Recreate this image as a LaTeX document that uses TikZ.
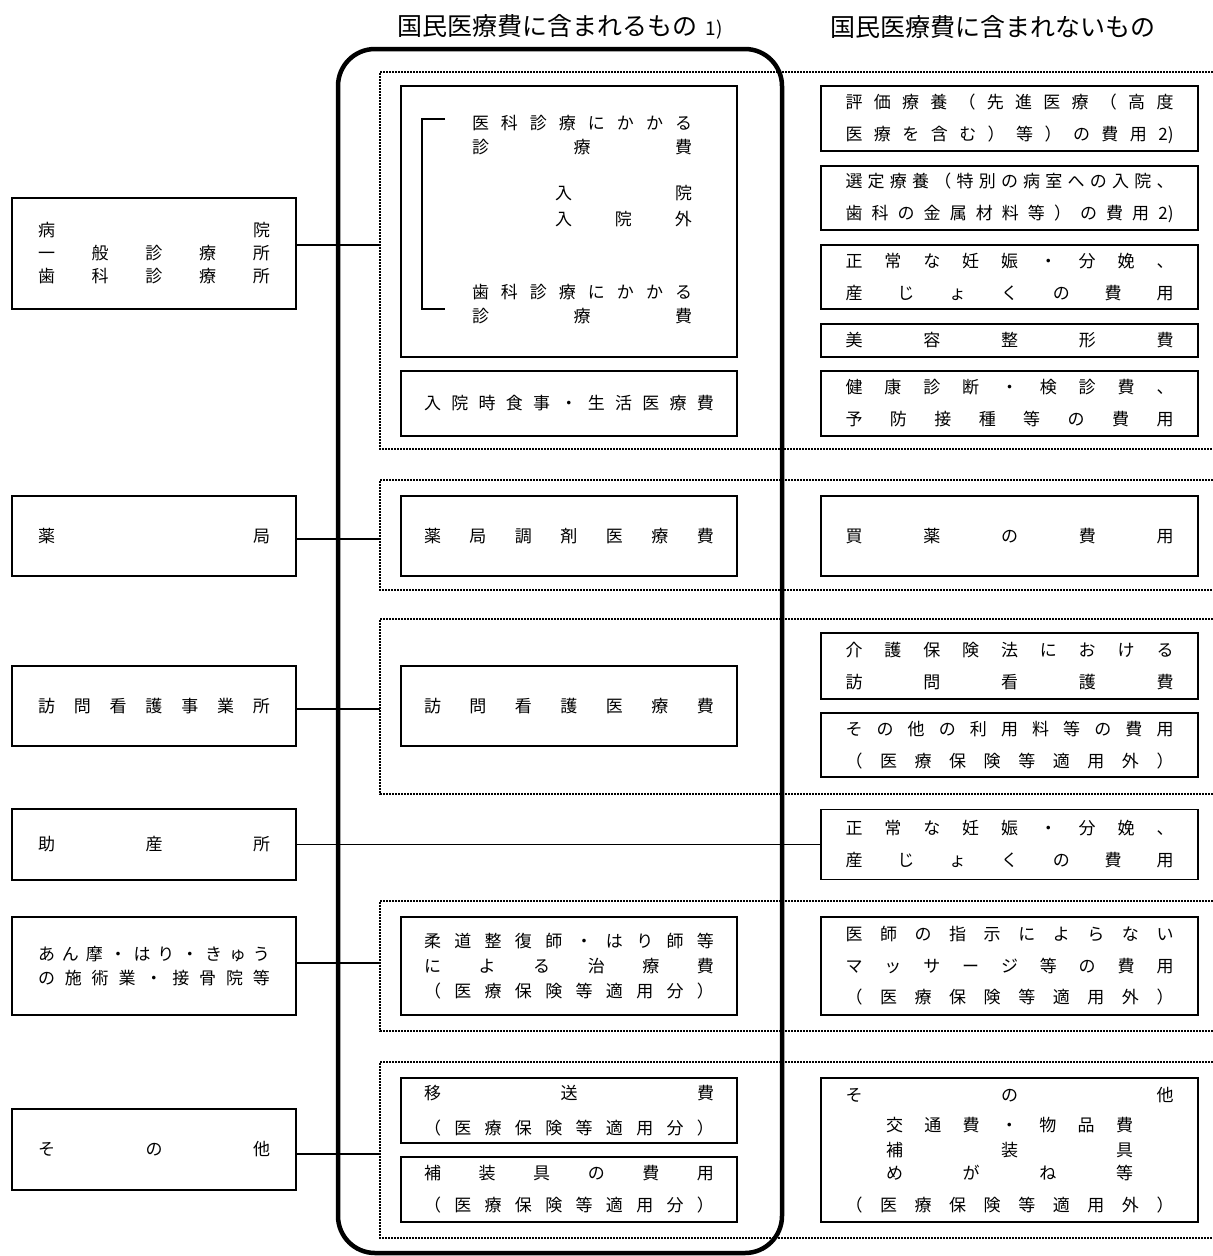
\documentclass[tikz,border=0pt]{standalone}
\usepackage{fontspec}
\setmainfont{Noto Sans CJK JP}
\usepackage{tikz}

% spread the characters of one line over a fixed width
\newcommand\spreadline[2]{\hbox to #1{\spreadfirst#2\relax}}
\def\spreadfirst#1{#1\spreadnext}
\def\spreadnext#1{\ifx\relax#1\else\hfil#1\expandafter\spreadnext\fi}
\newcommand\sprL[1]{\spreadline{232pt}{#1}}
\newcommand\sprM[1]{\spreadline{290pt}{#1}}
\newcommand\sprR[1]{\spreadline{328pt}{#1}}

\tikzset{
  box/.style={draw, line width=1.7pt, inner sep=0pt, align=center, font=\fontsize{17}{32}\selectfont},
  leftbox/.style={box, minimum width=284pt},
  midbox/.style={box, minimum width=336pt},
  rightbox/.style={box, minimum width=377pt},
  txt/.style={inner sep=0pt, align=center, font=\fontsize{17}{24}\selectfont},
  group/.style={line width=1.1pt, dash pattern=on 2pt off 1pt},
  link/.style={line width=1.3pt},
}

\begin{document}
\begin{tikzpicture}[x=1pt, y=-1pt]
  \useasboundingbox (0,0) rectangle (1213,1256);

  % headings
  \node[font=\fontsize{25}{25}\selectfont] (incl) at (560,27) {国民医療費に含まれるもの\hspace{8pt}{\fontsize{19}{19}\selectfont 1)}};
  \node[font=\fontsize{25}{25}\selectfont] (excl) at (993,27) {国民医療費に含まれないもの};

  % frame round the included costs
  \draw[line width=4.5pt, rounded corners=37pt] (338,49) rectangle (782,1253);

  % dashed groups, open to the right
  \draw[group] (1213,72) -- (380,72) -- (380,449) -- (1213,449);
  \draw[group] (1213,480) -- (380,480) -- (380,590) -- (1213,590);
  \draw[group] (1213,619) -- (380,619) -- (380,794) -- (1213,794);
  \draw[group] (1213,901) -- (380,901) -- (380,1031) -- (1213,1031);
  \draw[group] (1213,1062) -- (380,1062) -- (380,1238) -- (1213,1238);
  \coordinate (g1) at (380,245);
  \coordinate (g2) at (380,539);
  \coordinate (g3) at (380,709);
  \coordinate (g4) at (380,963);
  \coordinate (g5) at (380,1154);

  % providers
  \node[leftbox, minimum height=111pt, font=\fontsize{17}{23}\selectfont] (hosp) at (154,253.5) {\sprL{病院}\\ \sprL{一般診療所}\\ \sprL{歯科診療所}};
  \node[leftbox, minimum height=80pt] (phar) at (154,536) {\sprL{薬局}};
  \node[leftbox, minimum height=80pt] (visit) at (154,706) {\sprL{訪問看護事業所}};
  \node[leftbox, minimum height=71pt] (midw) at (154,844.5) {\sprL{助産所}};
  \node[leftbox, minimum height=98pt, font=\fontsize{17}{24}\selectfont] (anma) at (154,966) {\sprL{あん摩・はり・きゅう}\\ \sprL{の施術業・接骨院等}};
  \node[leftbox, minimum height=81pt] (other) at (154,1149.5) {\sprL{その他}};

  % included
  \node[midbox, minimum height=271pt] (medical) at (569,221.5) {};
  \draw[line width=1.7pt] (445,119) -| (422,309) -- (445,309);
  \node[txt] (ika) at (582,135) {\spreadline{220pt}{医科診療にかかる}\\ \spreadline{220pt}{診療費}};
  \node[txt, font=\fontsize{17}{26}\selectfont] (nyuin) at (623.5,206) {\spreadline{137pt}{入院}\\ \spreadline{137pt}{入院外}};
  \node[txt] (shika) at (582,304) {\spreadline{220pt}{歯科診療にかかる}\\ \spreadline{220pt}{診療費}};
  \node[midbox, minimum height=65pt] (meal) at (569,403.5) {\sprM{入院時食事・生活医療費}};
  \node[midbox, minimum height=80pt] (dispense) at (569,536) {\sprM{薬局調剤医療費}};
  \node[midbox, minimum height=80pt] (nursing) at (569,706) {\sprM{訪問看護医療費}};
  \node[midbox, minimum height=98pt, font=\fontsize{17}{25}\selectfont] (judo) at (569,966) {\sprM{柔道整復師・はり師等}\\ \sprM{による治療費}\\ \sprM{（医療保険等適用分）}};
  \node[midbox, minimum height=65pt, font=\fontsize{17}{35}\selectfont] (transfer) at (569,1110.5) {\sprM{移送費}\\ \sprM{（医療保険等適用分）}};
  \node[midbox, minimum height=65pt] (device) at (569,1189.5) {\sprM{補装具の費用}\\ \sprM{（医療保険等適用分）}};

  % not included
  \node[rightbox, minimum height=65pt] (hyoka) at (1009.5,118.5) {\sprR{評価療養（先進医療（高度}\\ \sprR{医療を含む）等）の費用{2)}}};
  \node[rightbox, minimum height=64pt] (sentei) at (1009.5,198) {\sprR{選定療養（特別の病室への入院、}\\ \sprR{歯科の金属材料等）の費用{2)}}};
  \node[rightbox, minimum height=64pt] (birth) at (1009.5,277) {\sprR{正常な妊娠・分娩、}\\ \sprR{産じょくの費用}};
  \node[rightbox, minimum height=33pt] (cosmetic) at (1009.5,340.5) {\sprR{美容整形費}};
  \node[rightbox, minimum height=65pt] (checkup) at (1009.5,403.5) {\sprR{健康診断・検診費、}\\ \sprR{予防接種等の費用}};
  \node[rightbox, minimum height=80pt] (otc) at (1009.5,536) {\sprR{買薬の費用}};
  \node[rightbox, minimum height=66pt] (care) at (1009.5,666) {\sprR{介護保険法における}\\ \sprR{訪問看護費}};
  \node[rightbox, minimum height=64pt] (fees) at (1009.5,745) {\sprR{その他の利用料等の費用}\\ \sprR{（医療保険等適用外）}};
  \node[rightbox, minimum height=70pt] (birth2) at (1009.5,844.5) {\sprR{正常な妊娠・分娩、}\\ \sprR{産じょくの費用}};
  \node[rightbox, minimum height=98pt, font=\fontsize{17}{31.5}\selectfont] (massage) at (1009.5,966) {\sprR{医師の指示によらない}\\ \sprR{マッサージ等の費用}\\ \sprR{（医療保険等適用外）}};
  \node[rightbox, minimum height=144pt, font=\fontsize{17}{24}\selectfont] (misc) at (1009.5,1150) {\sprR{その他}\\[6pt] \spreadline{247pt}{交通費・物品費}\\[1pt] \spreadline{247pt}{補装具}\\[-1pt] \spreadline{247pt}{めがね等}\\[8pt] \sprR{（医療保険等適用外）}};

  % connectors
  \draw[link] (hosp.east |- g1) -- (g1);
  \draw[link] (phar.east |- g2) -- (g2);
  \draw[link] (visit.east |- g3) -- (g3);
  \draw[link] (midw.east) -- (birth2.west);
  \draw[link] (anma.east |- g4) -- (g4);
  \draw[link] (other.east |- g5) -- (g5);
\end{tikzpicture}
\end{document}
